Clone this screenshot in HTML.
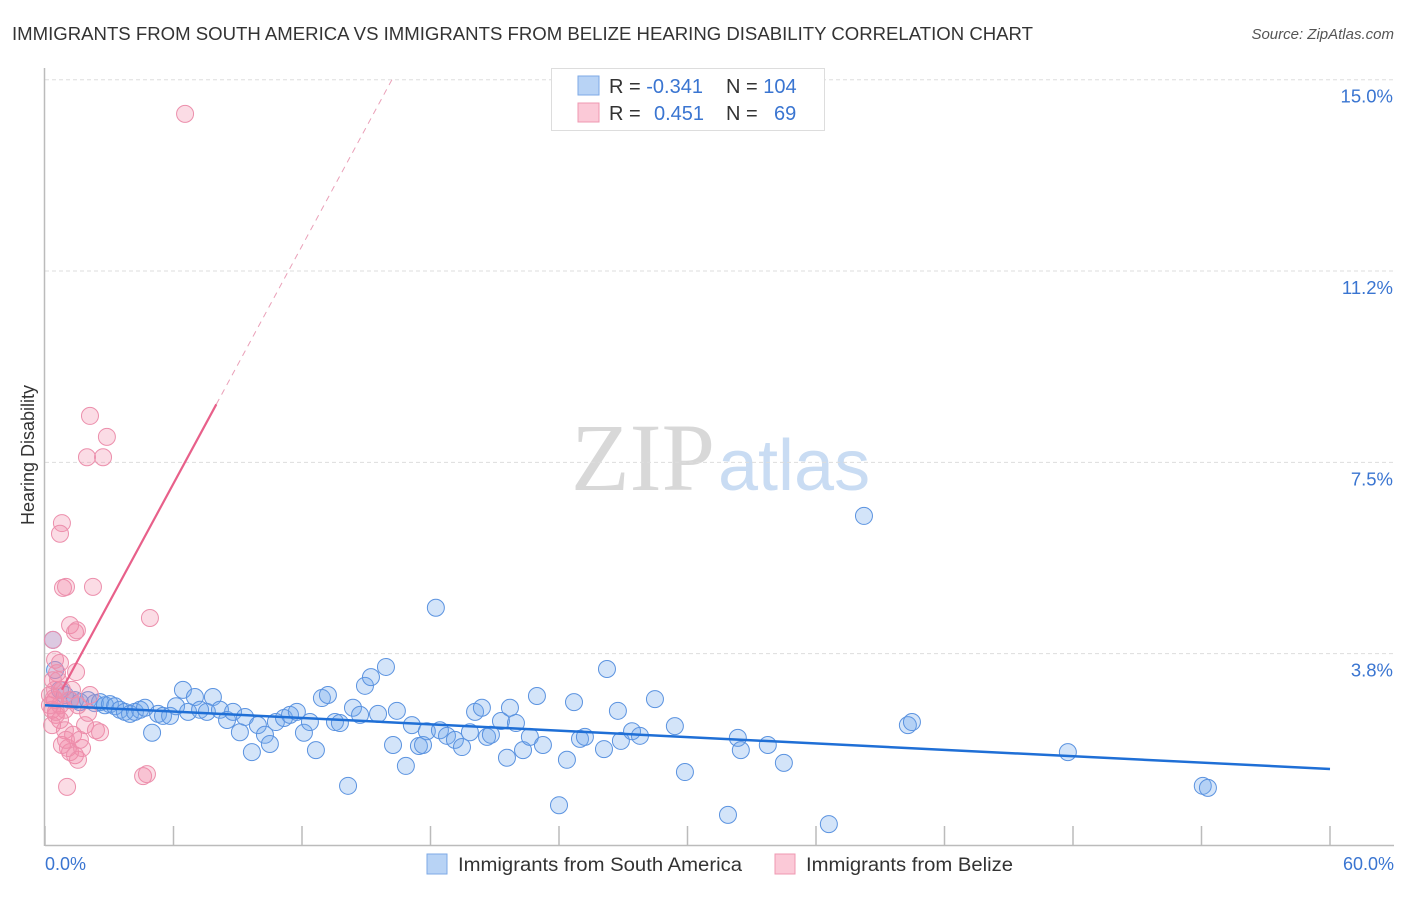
<!DOCTYPE html>
<html><head><meta charset="utf-8"><style>
body{margin:0;background:#fff;font-family:"Liberation Sans",sans-serif;}
svg text{font-family:"Liberation Sans",sans-serif;}
</style></head><body>
<svg id="chart" width="1406" height="892" xmlns="http://www.w3.org/2000/svg">
<text x="12" y="40" font-size="18" fill="#333" textLength="1021" lengthAdjust="spacingAndGlyphs">IMMIGRANTS FROM SOUTH AMERICA VS IMMIGRANTS FROM BELIZE HEARING DISABILITY CORRELATION CHART</text>
<text x="1394" y="39" font-size="15" fill="#555" font-style="italic" text-anchor="end">Source: ZipAtlas.com</text>
<text x="715" y="490" font-size="96" fill="#d8d8d8" text-anchor="end" font-family="Liberation Serif" style="font-family:'Liberation Serif',serif">ZIP</text>
<text x="718" y="490" font-size="72" fill="#c9dcf3">atlas</text>
<g id="grid"></g>
<g id="axes"></g>
<g id="marks"></g>
<text transform="translate(34,455) rotate(-90)" font-size="18" fill="#333" text-anchor="middle">Hearing Disability</text>
<text x="45" y="870" font-size="18" fill="#3a75d1">0.0%</text>
<text x="1394" y="870" font-size="18" fill="#3a75d1" text-anchor="end">60.0%</text>
<g>
<rect x="551.5" y="68.5" width="273" height="62" fill="#fff" stroke="#ddd"/>
<rect x="578" y="76" width="21" height="19" fill="#b8d3f5" stroke="#7eaae6"/>
<rect x="578" y="103" width="21" height="19" fill="#fbc9d7" stroke="#ef98b2"/>
<text x="609" y="93" font-size="20" fill="#333">R = <tspan fill="#3a75d1">-0.341</tspan></text>
<text x="726" y="93" font-size="20" fill="#333">N = <tspan fill="#3a75d1">104</tspan></text>
<text x="609" y="120" font-size="20" fill="#333">R = </text><text x="654" y="120" font-size="20" fill="#3a75d1">0.451</text>
<text x="726" y="120" font-size="20" fill="#333">N = </text><text x="774" y="120" font-size="20" fill="#3a75d1">69</text>
</g>
<g>
<rect x="427" y="854" width="20" height="20" fill="#b8d3f5" stroke="#7eaae6"/>
<text x="458" y="871" font-size="19" fill="#333" textLength="284" lengthAdjust="spacingAndGlyphs">Immigrants from South America</text></g>
<g>
<rect x="775" y="854" width="20" height="20" fill="#fbc9d7" stroke="#ef98b2"/>
<text x="806" y="871" font-size="19" fill="#333" textLength="207" lengthAdjust="spacingAndGlyphs">Immigrants from Belize</text></g>
</svg>
<script>
const yTicks=[15,11.25,7.5,3.75];
const yTickLabels=["15.0%","11.2%","7.5%","3.8%"];
const xTicks=[0,6,12,18,24,30,36,42,48,54,60];
const blueX=[0.37,0.47,0.70,0.93,1.17,1.40,1.63,2.01,2.33,2.57,2.80,3.03,3.27,3.50,3.73,3.97,4.20,4.44,4.67,5.00,5.28,5.51,5.84,6.12,6.44,6.68,7.00,7.24,7.56,7.84,8.17,8.50,8.78,9.10,9.34,9.66,9.94,10.27,10.50,10.78,11.16,11.44,11.76,12.09,12.37,12.65,12.93,13.21,13.54,13.77,14.15,14.38,14.71,14.94,15.22,15.55,15.92,16.25,16.43,16.85,17.13,17.46,17.65,17.83,18.25,18.44,18.77,19.14,19.47,19.84,20.08,20.40,20.64,20.82,21.29,21.57,21.71,21.99,22.32,22.64,22.97,23.25,24.00,24.37,24.70,24.98,25.21,26.10,26.24,26.75,26.89,27.41,27.78,28.48,29.41,29.88,31.89,32.35,32.49,33.75,34.50,36.60,38.24,40.29,40.48,47.76,54.06,54.30];
const blueY=[4.02,3.43,3.04,2.94,2.84,2.84,2.80,2.84,2.78,2.80,2.74,2.76,2.72,2.65,2.61,2.57,2.61,2.65,2.69,2.20,2.57,2.53,2.53,2.72,3.04,2.61,2.90,2.65,2.61,2.90,2.65,2.45,2.61,2.21,2.51,1.82,2.35,2.16,1.98,2.41,2.49,2.55,2.61,2.20,2.41,1.86,2.88,2.94,2.41,2.39,1.16,2.69,2.55,3.12,3.29,2.57,3.49,1.96,2.63,1.55,2.35,1.94,1.96,2.23,4.65,2.25,2.14,2.06,1.92,2.21,2.61,2.69,2.12,2.16,2.43,1.71,2.69,2.39,1.86,2.12,2.92,1.96,0.78,1.67,2.80,2.08,2.12,1.88,3.45,2.63,2.04,2.23,2.14,2.86,2.33,1.43,0.59,2.10,1.86,1.96,1.61,0.41,6.45,2.35,2.41,1.82,1.16,1.12];
const pinkX=[0.37,0.47,0.56,0.70,0.79,0.70,0.84,0.98,1.17,1.40,1.49,1.45,0.79,0.47,0.33,0.23,0.51,0.70,0.93,1.07,1.17,1.31,1.40,1.54,1.73,1.87,2.01,2.10,2.38,2.57,1.96,2.10,2.71,2.89,2.24,4.90,6.54,4.58,4.76,1.03,0.33,0.47,0.61,0.23,0.37,0.70,0.93,1.17,1.26,1.54,1.63,0.79,0.98,0.51,0.42];
const pinkY=[4.02,3.63,3.37,3.57,6.31,6.10,5.04,5.06,4.31,4.17,4.21,3.39,3.04,2.84,2.65,2.94,2.55,2.45,2.25,1.90,1.82,2.16,1.76,1.67,1.90,2.35,2.59,2.94,2.25,2.21,7.60,8.41,7.60,8.00,5.06,4.45,14.33,1.35,1.39,1.14,2.35,3.04,3.23,2.74,3.23,2.74,2.65,2.84,3.04,2.74,2.06,1.96,2.06,2.61,2.88];
const blueTrend=[2.74,1.49];
const pinkTrend=[2.43,0.776];

const NS="http://www.w3.org/2000/svg";
const X=v=>45+v*(1285/60);
const Y=v=>845-v*51.02;
function mk(tag,attrs,parent){const e=document.createElementNS(NS,tag);for(const k in attrs)e.setAttribute(k,attrs[k]);parent.appendChild(e);return e;}
const grid=document.getElementById('grid'),axes=document.getElementById('axes'),marks=document.getElementById('marks');
yTicks.forEach((t,i)=>{
  const l=mk('line',{x1:45,x2:1394,y1:Y(t),y2:Y(t),stroke:'#ddd','stroke-dasharray':'4,3'},grid);
  
  
  const tx=mk('text',{x:1393,y:Y(t)+23,'font-size':18.5,fill:'#3a75d1','text-anchor':'end'},axes);
  tx.textContent=yTickLabels[i];
  
  
});
const xa=mk('line',{x1:45,x2:1394,y1:845.5,y2:845.5,stroke:'#bbb','stroke-width':1.5},axes);


const ya=mk('line',{x1:44.5,x2:44.5,y1:68,y2:846,stroke:'#bbb','stroke-width':1.5},axes);


xTicks.forEach(t=>{
  const l=mk('line',{x1:X(t),x2:X(t),y1:826,y2:845,stroke:'#bbb','stroke-width':1.5},axes);
  
  
});
blueX.forEach((x,i)=>{
  const c=mk('circle',{cx:X(x),cy:Y(blueY[i]),r:8.5,fill:'rgba(110,165,235,0.3)',stroke:'#5b93e0','stroke-width':1},marks);
  
  
});
pinkX.forEach((x,i)=>{
  const c=mk('circle',{cx:X(x),cy:Y(pinkY[i]),r:8.5,fill:'rgba(242,140,170,0.3)',stroke:'#ec8fac','stroke-width':1},marks);
  
  
});
const bt=mk('line',{x1:X(0),y1:Y(blueTrend[0]),x2:X(60),y2:Y(blueTrend[1]),stroke:'#1f6fd6','stroke-width':2.5},marks);


const pEnd=(15-pinkTrend[0])/pinkTrend[1];
const pd=mk('line',{x1:X(8),y1:Y(pinkTrend[0]+8*pinkTrend[1]),x2:X(pEnd),y2:Y(15),stroke:'#eaa0b8','stroke-width':1,'stroke-dasharray':'6,5'},marks);


const pt=mk('line',{x1:X(0.79),y1:Y(pinkTrend[0]+0.79*pinkTrend[1]),x2:X(8),y2:Y(pinkTrend[0]+8*pinkTrend[1]),stroke:'#e8608a','stroke-width':2.2},marks);


</script>
</body></html>
